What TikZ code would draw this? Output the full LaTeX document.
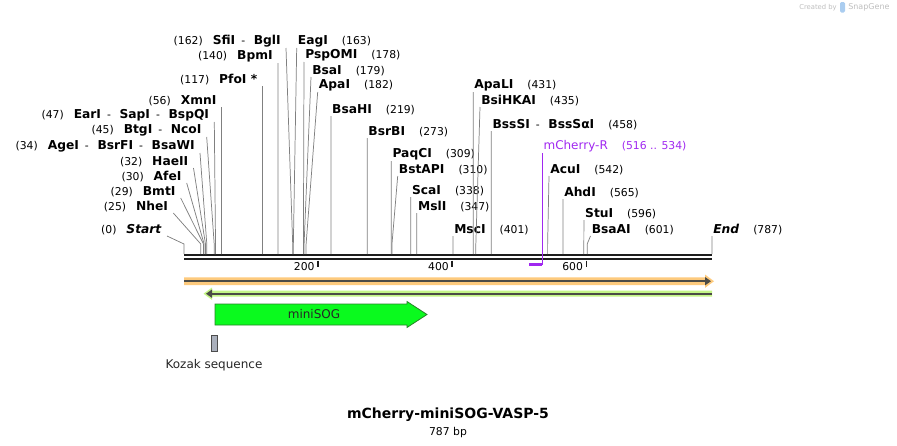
\documentclass[tikz,border=0pt]{standalone}
\usepackage{fontspec}
\setmainfont{DejaVu Sans}
\usepackage{tikz}
\usetikzlibrary{
  	arrows.meta,
  	positioning
  }
\definecolor{cutgray}{RGB}{128,128,128}
\definecolor{seqblack}{RGB}{30,30,30}
\definecolor{bandorange}{RGB}{253,202,125}
\definecolor{bandgreen}{RGB}{196,245,135}
\definecolor{featdark}{RGB}{75,75,70}
\definecolor{sogfill}{RGB}{10,250,30}
\definecolor{sogdraw}{RGB}{40,130,40}
\definecolor{primerpurple}{RGB}{160,40,240}
\definecolor{kozakfill}{RGB}{170,176,188}
\definecolor{markgray}{RGB}{190,190,190}
\definecolor{markblue}{RGB}{170,205,240}
\newcommand{\numfont}{\fontsize{8.1}{10}\selectfont}
\newcommand{\nm}[1]{{\fontsize{9.2}{11}\selectfont\bfseries #1}}
\newcommand{\esep}{\hspace{4.5pt}-\hspace{6.5pt}}
\newcommand{\lgap}{\hspace{7.5pt}}
\newcommand{\rgap}{\hspace{10.5pt}}
\tikzstyle{cutline}=[draw=cutgray,line width=0.55pt]
\tikzstyle{leftlab}=[anchor=south east,inner xsep=3.75pt,inner ysep=0.75pt,font=\numfont]
\tikzstyle{rightlab}=[anchor=south west,inner xsep=0.75pt,inner ysep=0.75pt,font=\numfont]
\tikzstyle{seqline}=[draw=seqblack,line width=1.7pt]
\tikzstyle{featline}=[draw=featdark,line width=1.5pt]
\tikzstyle{primer}=[draw=primerpurple,line width=0.8pt]

\begin{document}
\begin{tikzpicture}[x=0.75pt,y=-0.75pt]
	\useasboundingbox (0,0) rectangle (897,446);
%
	% sequence and ruler
	\draw[seqline] (184,255) -- (712,255);
	\draw[seqline] (184,259.3) -- (712,259.3);
	\foreach \t in {200,400,600} {
  	\draw[draw=seqblack,line width=1.3pt] ({184+\t*0.670902},260.5) -- ({184+\t*0.670902},267);
  	\node[anchor=east,inner sep=1pt,font=\numfont] (T\t) at ({182+\t*0.670902},267) {\t};
	}
%
	% enzymes, labels to the left
	\foreach \bp/\lx/\ly/\txt [count=\i] in {
  	0/167/236/{(0)\lgap\nm{\textit{Start}}},
  	25/173.3/213/{(25)\lgap\nm{NheI}},
  	29/180.7/198/{(29)\lgap\nm{BmtI}},
  	30/186.7/183/{(30)\lgap\nm{AfeI}},
  	32/193.5/168/{(32)\lgap\nm{HaeII}},
  	34/200/153/{(34)\lgap\nm{AgeI}\esep\nm{BsrFI}\esep\nm{BsaWI}},
  	45/206.7/137/{(45)\lgap\nm{BtgI}\esep\nm{NcoI}},
  	47/214.3/122/{(47)\lgap\nm{EarI}\esep\nm{SapI}\esep\nm{BspQI}},
  	56/221.6/107/{(56)\lgap\nm{XmnI}},
  	117/262.5/86/{(117)\lgap\nm{PfoI *}},
  	140/277.9/63/{(140)\lgap\nm{BpmI}},
  	162/286/48/{(162)\lgap\nm{SfiI}\esep\nm{BglI}}} {
  	\coordinate (sL\i) at ({184+\bp*0.670902},254);
  	\node[leftlab] (L\i) at (\lx,\ly) {\txt};
  	\draw[cutline] (sL\i) -- ++(0,-10) -- (L\i.south east);
	}
%
	% enzymes, labels to the right
	\foreach \bp/\lx/\ly/\txt [count=\i] in {
  	163/296.7/48/{\nm{EagI}\rgap(163)},
  	178/304/62/{\nm{PspOMI}\rgap(178)},
  	179/311/77/{\nm{BsaI}\rgap(179)},
  	182/317.7/92/{\nm{ApaI}\rgap(182)},
  	219/330.9/116/{\nm{BsaHI}\rgap(219)},
  	273/367.2/138/{\nm{BsrBI}\rgap(273)},
  	309/391.3/161/{\nm{PaqCI}\rgap(309)},
  	310/397.7/176/{\nm{BstAPI}\rgap(310)},
  	338/410.8/197/{\nm{ScaI}\rgap(338)},
  	347/416.8/213/{\nm{MslI}\rgap(347)},
  	401/453/236/{\nm{MscI}\rgap(401)},
  	431/473.2/92/{\nm{ApaLI}\rgap(431)},
  	435/480/107/{\nm{BsiHKAI}\rgap(435)},
  	458/491.3/131/{\nm{BssSI}\esep\nm{BssSαI}\rgap(458)},
  	542/549/176/{\nm{AcuI}\rgap(542)},
  	565/563/199/{\nm{AhdI}\rgap(565)},
  	596/583.9/220/{\nm{StuI}\rgap(596)},
  	601/590.5/236/{\nm{BsaAI}\rgap(601)},
  	787/712/236/{\nm{\textit{End}}\rgap(787)}} {
  	\coordinate (sR\i) at ({184+\bp*0.670902},254);
  	\node[rightlab] (R\i) at (\lx,\ly) {\txt};
  	\draw[cutline] (sR\i) -- ++(0,-10) -- (R\i.south west);
	}
%
	% primer
	\node[rightlab,text=primerpurple,font=\fontsize{9}{11}\selectfont] (pR) at (542.3,153)
  	{mCherry-R\rgap{\numfont(516 .. 534)}};
	\coordinate (pA) at (529,264.5);
	\coordinate (pB) at (542.3,264.5);
	\draw[primer] (pR.south west) -- (pB);
	\draw[primer,line width=1.6pt] (pA) -- (pB);
%
	% features
	\fill[bandorange] (184,277.3) -- (705,277.3) -- (705,274.5) -- (714,281.2) -- (705,287.9) -- (705,285) -- (184,285) -- cycle;
	\draw[featline,-{Triangle[length=4.5pt,width=6pt]}] (184,281.2) -- (711,281.2);
	\fill[bandgreen] (712,290.7) -- (212,290.7) -- (212,287.5) -- (203.5,293.7) -- (212,299.9) -- (212,296.7) -- (712,296.7) -- cycle;
	\draw[featline,-{Triangle[length=4.5pt,width=6pt]}] (711.5,293.7) -- (206,293.7);
	\draw[fill=sogfill,draw=sogdraw,line width=0.6pt]
     (215,304) -- (407,304) -- (407,301.5) -- (427,314.5) -- (407,327.5) -- (407,325) -- (215,325) -- cycle;
	\node[font=\fontsize{9}{11}\selectfont,text=black!85] (sog) at (314,314) {miniSOG};
	\node[draw=black!70,fill=kozakfill,minimum width=4.5pt,minimum height=12pt,inner sep=0pt,line width=0.6pt] (koz) at (214,343) {};
	\node[below=4.5pt of koz,font=\fontsize{9}{11}\selectfont,text=black!85,inner sep=1pt] (kozlab) {Kozak sequence};
%
	% title
	\node[font=\fontsize{10.5}{12}\selectfont\bfseries,inner sep=1pt] (title) at (448,415) {mCherry-miniSOG-VASP-5};
	\node[below=1.5pt of title,font=\numfont,inner sep=1pt] (bp) {787 bp};
%
	% watermark
	\node[anchor=east,font=\fontsize{5.1}{6}\selectfont,text=markgray,inner sep=0pt] (cr) at (837,7.3) {Created by};
	\fill[markblue,rounded corners=1pt] (840,2) rectangle (845,12.5);
	\node[anchor=west,font=\fontsize{6}{7}\selectfont,text=markgray,inner sep=0pt] (sg) at (848,7.3) {SnapGene};
\end{tikzpicture}
\end{document}
